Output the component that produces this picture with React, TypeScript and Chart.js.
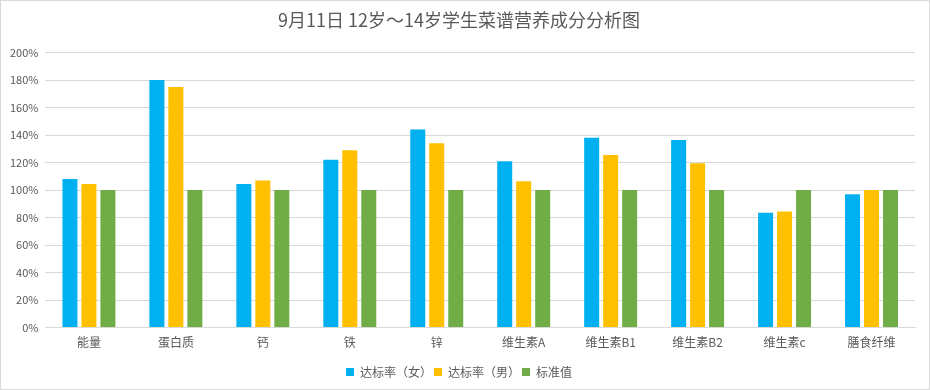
import React, { useEffect, useRef } from "react";
import { Chart, registerables } from "chart.js";

Chart.register(...registerables);

const categories = ["能量", "蛋白质", "钙", "铁", "锌", "维生素A", "维生素B1", "维生素B2", "维生素c", "膳食纤维"];
const femaleRate = [108, 180, 104.5, 122, 144, 121, 138, 136.5, 83.5, 97];
const maleRate = [104.5, 175, 107, 129, 134, 106.5, 125.5, 119.5, 84.5, 100];
const standard = [100, 100, 100, 100, 100, 100, 100, 100, 100, 100];
const seriesNames = ["达标率（女）", "达标率（男）", "标准值"];
const titleText = "9月11日 12岁～14岁学生菜谱营养成分分析图";

const FONT = "'Noto Sans CJK SC', 'Noto Sans', sans-serif";

export default function App() {
  const ref = useRef<HTMLCanvasElement | null>(null);

  useEffect(() => {
    document.body.style.margin = "0";
    if (!ref.current) return;
    const chart = new Chart(ref.current, {
      type: "bar",
      data: {
        labels: categories,
        datasets: [
          { label: seriesNames[0], data: femaleRate, backgroundColor: "#00b0f0" },
          { label: seriesNames[1], data: maleRate, backgroundColor: "#ffc000" },
          { label: seriesNames[2], data: standard, backgroundColor: "#70ad47" },
        ],
      },
      options: {
        animation: false,
        responsive: false,
        maintainAspectRatio: false,
        datasets: {
          bar: { categoryPercentage: 0.655, barPercentage: 0.79 },
        },
        layout: { padding: { left: 2, right: 14, top: 8, bottom: 1 } },
        plugins: {
          title: {
            display: true,
            text: titleText,
            color: "#595959",
            font: { family: FONT, size: 18, weight: "normal" },
            padding: { top: 0, bottom: 22 },
          },
          legend: {
            position: "bottom",
            labels: {
              boxWidth: 8,
              boxHeight: 8,
              color: "#595959",
              font: { family: FONT, size: 12 },
              padding: 2,
            },
          },
          tooltip: { enabled: false },
        },
        scales: {
          x: {
            grid: { display: false, drawTicks: false },
            border: { display: true, color: "#d9d9d9" },
            ticks: { color: "#595959", font: { family: FONT, size: 12 }, padding: 8 },
            afterFit: (scale: any) => {
              scale.height += 6;
            },
          },
          y: {
            min: 0,
            max: 200,
            ticks: {
              stepSize: 20,
              color: "#595959",
              font: { family: FONT, size: 11 },
              padding: 7,
              callback: (v: any) => v + "%",
            },
            grid: { color: "#d9d9d9", drawTicks: false },
            border: { display: false },
          },
        },
      },
    });
    return () => chart.destroy();
  }, []);

  return (
    <div style={{ width: 928, height: 388, border: "1px solid #d9d9d9", background: "#fff" }}>
      <canvas ref={ref} width={928} height={388} style={{ display: "block" }} />
    </div>
  );
}
